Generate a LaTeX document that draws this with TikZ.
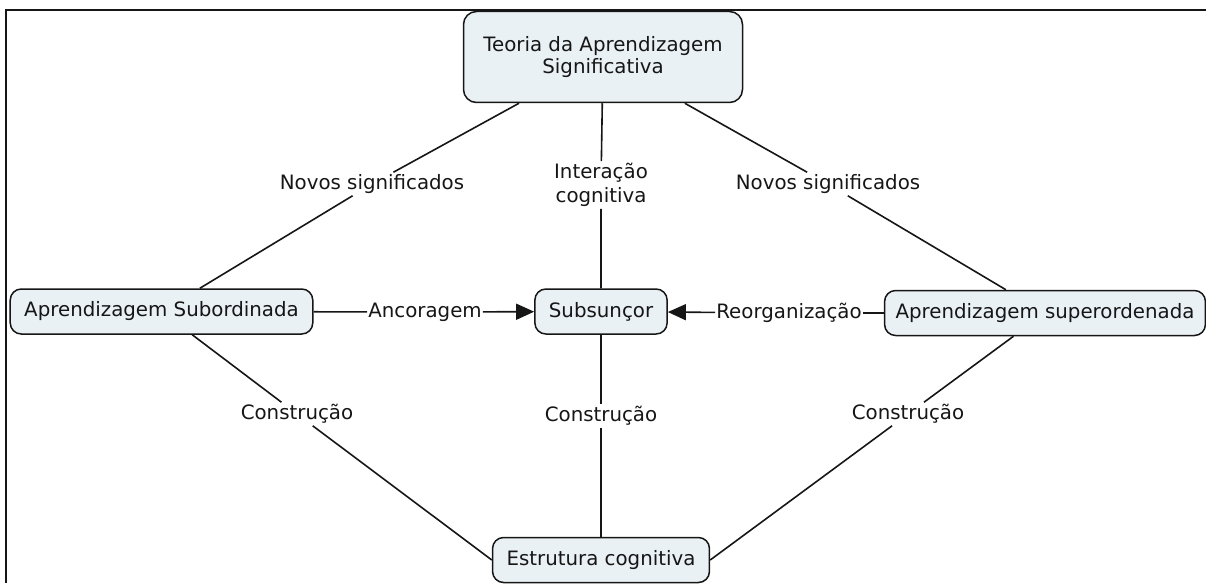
\documentclass[tikz,border=0pt]{standalone}
\usepackage{fontspec}
\setmainfont{DejaVu Sans}
\usetikzlibrary{arrows.meta}
\definecolor{conceptfill}{RGB}{234,241,245}
\definecolor{inkgray}{RGB}{22,22,22}

\begin{document}
\begin{tikzpicture}[x=1pt,y=-1pt,
    concept/.style={draw=inkgray,line width=1.5pt,fill=conceptfill,rounded corners=11pt,
        minimum height=45pt,inner xsep=14pt,text=inkgray,align=center,
        font=\fontsize{19.8}{22.5}\selectfont},
    linkword/.style={inner sep=2pt,text=inkgray,align=center,
        font=\fontsize{19.8}{24}\selectfont},
    link/.style={line width=1.6pt,draw=inkgray},
    linkarrow/.style={-{Triangle[length=18pt,width=16pt]}}]

\def\FRAMECOLOR{inkgray}
    \useasboundingbox (0,0) rectangle (1206,583);
    \draw[\FRAMECOLOR,line width=2pt] (6,583) -- (6,10) -- (1206,10);

    % concepts
    \node[concept,minimum width=279pt,minimum height=91pt,rounded corners=13pt] (teoria) at (603,57)
        {Teoria da Aprendizagem\\Significativa};
    \node[concept] (subord) at (161.5,311.5) {Aprendizagem Subordinada};
    \node[concept] (subsuncor) at (601,311.5) {Subsunçor};
    \node[concept,inner xsep=11pt] (superord) at (1045,313) {Aprendizagem superordenada};
    \node[concept] (estrutura) at (601,560) {Estrutura cognitiva};

    % linking words
    \node[linkword] (novosL) at (372,184) {Novos significados};
    \node[linkword] (interacao) at (601,185) {Interação\\cognitiva};
    \node[linkword] (novosR) at (828,184) {Novos significados};
    \node[linkword,inner sep=1pt] (ancoragem) at (425,312) {Ancoragem};
    \node[linkword,inner sep=1pt] (reorg) at (789,313) {Reorganização};
    \node[linkword] (construcaoL) at (297,414) {Construção};
    \node[linkword] (construcaoM) at (601,416) {Construção};
    \node[linkword] (construcaoR) at (908,414) {Construção};

    \draw[link] (teoria) -- (novosL) -- (subord);
    \draw[link] (teoria) -- (interacao) -- (subsuncor);
    \draw[link] (teoria) -- (novosR) -- (superord);
    \draw[link] (subord) -- (ancoragem);
    \draw[link,linkarrow] (ancoragem) -- (subsuncor);
    \draw[link] (superord) -- (reorg);
    \draw[link,linkarrow] (reorg) -- (subsuncor);
    \draw[link] (subord) -- (construcaoL) -- (estrutura.west);
    \draw[link] (subsuncor) -- (construcaoM) -- (estrutura);
    \draw[link] (superord) -- (construcaoR) -- (estrutura.east);

\end{tikzpicture}
\end{document}
